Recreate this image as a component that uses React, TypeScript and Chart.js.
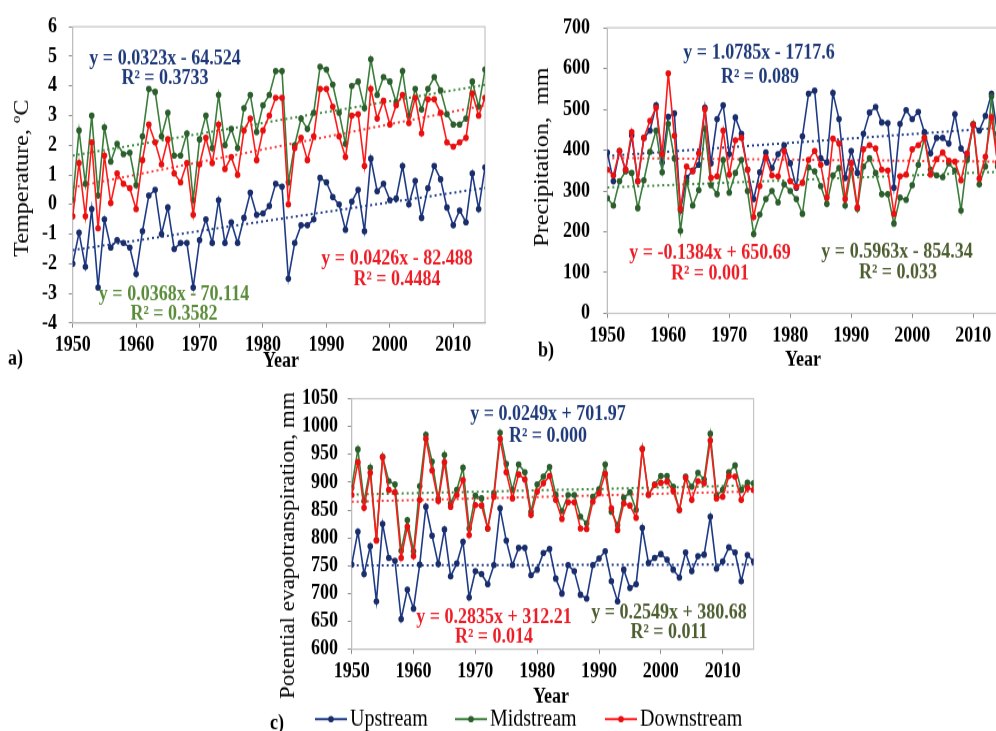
import React, { useEffect, useRef } from "react";
import { Chart, registerables } from "chart.js";

Chart.register(...registerables);

// ---------------- DATA ----------------
const years = [
  1950, 1951, 1952, 1953, 1954, 1955, 1956, 1957, 1958, 1959,
  1960, 1961, 1962, 1963, 1964, 1965, 1966, 1967, 1968, 1969,
  1970, 1971, 1972, 1973, 1974, 1975, 1976, 1977, 1978, 1979,
  1980, 1981, 1982, 1983, 1984, 1985, 1986, 1987, 1988, 1989,
  1990, 1991, 1992, 1993, 1994, 1995, 1996, 1997, 1998, 1999,
  2000, 2001, 2002, 2003, 2004, 2005, 2006, 2007, 2008, 2009,
  2010, 2011, 2012, 2013, 2014, 2015,
];
const xTickYears = [1950, 1960, 1970, 1980, 1990, 2000, 2010];
const seriesNames = ["Upstream", "Midstream", "Downstream"];
const trendYears = [1950, 2015];

// a) Temperature, ºC
const tempTicks = [-4, -3, -2, -1, 0, 1, 2, 3, 4, 5, 6];
const tempUp = [
  -2.0, -0.95, -2.1, -0.15, -2.8, -0.5, -1.45, -1.2, -1.3, -1.45,
  -2.35, -0.9, 0.3, 0.5, -1.0, -0.1, -1.5, -1.3, -1.3, -2.8,
  -1.2, -0.5, -1.3, 0.15, -1.3, -0.6, -1.3, -0.45, 0.4, -0.35,
  -0.3, -0.05, 0.7, 0.6, -2.5, -1.3, -0.7, -0.7, -0.5, 0.9,
  0.75, 0.25, 0.0, -0.85, 0.1, 0.5, -0.9, 1.55, 0.45, 0.7,
  0.15, 0.2, 1.3, 0.0, 0.8, -0.45, 0.55, 1.3, 0.85, -0.1,
  -0.7, -0.2, -0.6, 1.05, -0.15, 1.25,
];
const tempMid = [
  0.15, 2.5, 0.7, 3.0, 0.3, 2.6, 1.45, 2.05, 1.7, 1.75,
  0.65, 2.3, 3.9, 3.8, 2.3, 3.1, 1.65, 1.65, 2.4, 0.15,
  2.2, 3.0, 1.9, 3.7, 2.0, 2.55, 1.9, 3.25, 3.7, 2.45,
  3.35, 3.7, 4.5, 4.5, 0.75, 2.0, 2.9, 2.55, 3.1, 4.65,
  4.55, 4.05, 3.1, 2.05, 4.0, 4.15, 3.25, 4.9, 3.7, 4.3,
  4.15, 3.45, 4.5, 3.0, 3.9, 3.2, 3.9, 4.3, 3.85, 3.05,
  2.7, 2.7, 2.9, 4.15, 3.3, 4.55,
];
const tempDown = [
  -0.4, 1.4, -0.4, 2.1, -0.8, 1.65, 0.05, 1.05, 0.7, 0.55,
  -0.15, 1.5, 2.7, 2.1, 1.35, 2.2, 1.05, 0.75, 1.4, -0.35,
  1.35, 2.25, 1.4, 2.7, 1.2, 1.6, 1.0, 2.5, 2.9, 1.5,
  2.5, 3.0, 3.6, 3.6, 0.0, 1.9, 2.25, 1.5, 2.3, 3.9,
  3.9, 3.3, 2.3, 1.6, 3.0, 3.05, 1.3, 3.9, 2.9, 3.5,
  2.7, 3.35, 3.7, 2.75, 3.6, 2.4, 3.55, 3.55, 3.1, 2.1,
  1.95, 2.1, 2.25, 3.75, 3.0, 3.6,
];
const tempTrendUp = [-1.54, 0.56];
const tempTrendMid = [1.65, 4.04];
const tempTrendDown = [0.58, 3.35];

// b) Precipitation, mm
const precTicks = [0, 100, 200, 300, 400, 500, 600, 700];
const precUp = [
  394, 324, 398, 352, 436, 324, 430, 448, 510, 370,
  482, 490, 252, 332, 350, 364, 504, 368, 476, 510,
  390, 480, 440, 352, 280, 346, 394, 356, 390, 412,
  368, 308, 434, 538, 546, 380, 370, 540, 476, 332,
  398, 344, 440, 492, 506, 468, 466, 308, 464, 498,
  476, 494, 444, 392, 430, 430, 416, 488, 404, 384,
  462, 448, 484, 538, 440, 420,
];
const precMid = [
  282, 264, 324, 348, 344, 258, 326, 396, 448, 346,
  464, 380, 202, 324, 264, 302, 452, 314, 292, 376,
  296, 344, 376, 300, 194, 242, 280, 300, 272, 316,
  300, 280, 244, 358, 348, 312, 268, 338, 356, 264,
  352, 256, 360, 380, 344, 292, 292, 220, 284, 278,
  314, 364, 430, 352, 338, 334, 368, 350, 252, 376,
  464, 316, 360, 532, 360, 340,
];
const precDown = [
  352, 338, 398, 352, 444, 324, 430, 472, 504, 390,
  588, 435, 256, 360, 348, 392, 500, 332, 336, 448,
  340, 424, 430, 352, 236, 312, 382, 338, 336, 398,
  324, 310, 320, 376, 398, 364, 284, 428, 416, 280,
  368, 260, 402, 412, 404, 352, 350, 244, 336, 340,
  402, 412, 430, 340, 378, 394, 374, 372, 326, 392,
  462, 330, 384, 480, 370, 380,
];
const precTrendUp = [385.5, 455.6];
const precTrendMid = [308.4, 347.2];
const precTrendDown = [380.8, 371.8];

// c) Potential evapotranspiration, mm
const petTicks = [600, 650, 700, 750, 800, 850, 900, 950, 1000, 1050];
const petUp = [
  752, 811, 735, 785, 686, 825, 764, 759, 654, 707,
  673, 752, 856, 804, 753, 815, 731, 754, 793, 693,
  740, 735, 717, 751, 853, 795, 751, 782, 782, 733,
  743, 773, 780, 727, 700, 751, 740, 698, 691, 751,
  763, 776, 722, 686, 743, 710, 717, 818, 755, 764,
  771, 761, 743, 729, 774, 740, 767, 770, 838, 745,
  758, 783, 774, 722, 769, 758,
];
const petMid = [
  890, 959, 866, 926, 796, 946, 902, 896, 777, 832,
  776, 893, 985, 937, 870, 949, 862, 886, 926, 817,
  876, 871, 817, 880, 989, 933, 886, 932, 918, 847,
  896, 910, 927, 878, 848, 877, 877, 838, 826, 874,
  887, 932, 847, 823, 872, 882, 850, 960, 878, 896,
  911, 911, 892, 850, 910, 892, 917, 905, 987, 876,
  886, 918, 930, 886, 899, 898,
];
const petDown = [
  877, 936, 854, 917, 795, 945, 886, 882, 764, 820,
  767, 868, 978, 921, 866, 936, 856, 877, 904, 805,
  859, 858, 817, 874, 978, 918, 871, 914, 905, 841,
  883, 898, 911, 868, 834, 864, 864, 817, 816, 865,
  880, 915, 853, 814, 862, 858, 836, 960, 877, 895,
  899, 901, 884, 850, 908, 868, 902, 898, 975, 871,
  874, 911, 910, 868, 890, 886,
];
const petTrendUp = [750.5, 752.2];
const petTrendMid = [877.7, 894.3];
const petTrendDown = [865.0, 883.5];

// ---------------- STYLE ----------------
const SERIF = '"Liberation Serif", "DejaVu Serif", "Times New Roman", serif';
const LINE = ["#1f3a85", "#3a7d3a", "#ff1a1a"];
const MARK = ["#1a2e6c", "#2d5e2d", "#e81010"];
const TREND = ["#24408c", "#3d8b3d", "#ff3a3a"];
const EQ_UP = "#1f3a7a";
const EQ_DOWN = "#ee1c25";
const EQ_MID_A = "#5b8c3a";
const EQ_MID_B = "#4d5e30";
const AXIS = "#8a8a8a";
const FRAME = "#c4c4c4";

type Txt = {
  text: string;
  x: number;
  y: number;
  color?: string;
  size: number;
  bold?: boolean;
  align?: CanvasTextAlign;
  rotate?: boolean;
};

type PanelCfg = {
  left: number;
  top: number;
  w: number;
  h: number;
  k: number;
  ca: { l: number; t: number; r: number; b: number };
  yMin: number;
  yMax: number;
  yTicks: number[];
  tickSize: number;
  xLabelY: number;
  yLabelRight: number;
  series: number[][];
  trends: number[][];
  texts: Txt[];
  legendY?: number;
  legendItems?: { lineX: number; textX: number }[];
};

const TICK_LEN = 4;

function Panel({ cfg }: { cfg: PanelCfg }) {
  const ref = useRef<HTMLCanvasElement | null>(null);
  useEffect(() => {
    const k = cfg.k;
    const ca = cfg.ca;
    const lh = cfg.tickSize * 1.2;
    const xPad = cfg.xLabelY / k - ca.b / k - TICK_LEN - lh / 2;
    const yPad = ca.l - TICK_LEN - cfg.yLabelRight;
    const tickFont = { family: SERIF, size: cfg.tickSize, weight: "bold" as const };

    const trendSets = cfg.trends.map((t, i) => ({
      type: "line" as const,
      label: "trend " + seriesNames[i],
      data: trendYears.map((yr, j) => ({ x: yr, y: t[j] })),
      borderColor: TREND[i],
      borderWidth: 2,
      borderDash: [2, 3],
      pointRadius: 0,
      fill: false,
      order: 10,
      isSeries: false,
    }));
    const seriesSets = cfg.series.map((vals, i) => ({
      type: "line" as const,
      label: seriesNames[i],
      data: years.map((yr, j) => ({ x: yr, y: vals[j] })),
      borderColor: LINE[i],
      backgroundColor: MARK[i],
      borderWidth: 1.6,
      pointRadius: 2.8,
      pointBorderWidth: 0,
      pointBackgroundColor: MARK[i],
      pointBorderColor: MARK[i],
      fill: false,
      tension: 0,
      order: 3 - i,
      isSeries: true,
    }));

    const deco = {
      id: "deco",
      beforeDatasetsDraw(chart: any) {
        const { left, top, right, bottom } = chart.chartArea;
        const ctx = chart.ctx;
        ctx.save();
        ctx.strokeStyle = FRAME;
        ctx.lineWidth = 1.2;
        ctx.strokeRect(left, top, right - left, bottom - top);
        ctx.restore();
      },
      afterDraw(chart: any) {
        const ctx = chart.ctx;
        ctx.save();
        for (const t of cfg.texts) {
          ctx.font = `${t.bold ? "bold " : ""}${t.size}px ${SERIF}`;
          ctx.fillStyle = t.color || "#000";
          ctx.textAlign = t.align || "center";
          ctx.textBaseline = "middle";
          if (t.rotate) {
            ctx.save();
            ctx.translate(t.x, t.y / k);
            ctx.rotate(-Math.PI / 2);
            ctx.fillText(t.text, 0, 0);
            ctx.restore();
          } else {
            ctx.fillText(t.text, t.x, t.y / k);
          }
        }
        if (cfg.legendItems && cfg.legendY !== undefined) {
          const ly = cfg.legendY / k;
          const sets = chart.data.datasets.filter((d: any) => d.isSeries);
          sets.forEach((d: any, i: number) => {
            const it = cfg.legendItems![i];
            ctx.strokeStyle = d.borderColor;
            ctx.lineWidth = 2;
            ctx.beginPath();
            ctx.moveTo(it.lineX, ly);
            ctx.lineTo(it.lineX + 32, ly);
            ctx.stroke();
            ctx.fillStyle = d.pointBackgroundColor;
            ctx.beginPath();
            ctx.arc(it.lineX + 16, ly, 2.8, 0, Math.PI * 2);
            ctx.fill();
            ctx.font = `20px ${SERIF}`;
            ctx.fillStyle = "#000";
            ctx.textAlign = "left";
            ctx.textBaseline = "middle";
            ctx.fillText(d.label, it.textX, ly);
          });
        }
        ctx.restore();
      },
    };

    const chart = new Chart(ref.current as HTMLCanvasElement, {
      type: "line",
      data: { datasets: [...trendSets, ...seriesSets] as any },
      options: {
        animation: false,
        responsive: true,
        maintainAspectRatio: false,
        events: [],
        layout: { padding: { left: 0, right: cfg.w - ca.r, top: ca.t / k, bottom: 0 } },
        plugins: {
          legend: { display: false },
          tooltip: { enabled: false },
          title: { display: false },
        },
        scales: {
          x: {
            type: "linear",
            min: 1950,
            max: 2015,
            afterBuildTicks: (s: any) => {
              s.ticks = xTickYears.map((v) => ({ value: v }));
            },
            afterFit: (s: any) => {
              s.height = (cfg.h - ca.b) / k;
            },
            ticks: {
              callback: (v: any) => String(v),
              font: tickFont,
              color: "#000",
              padding: xPad,
              maxRotation: 0,
              autoSkip: false,
            },
            grid: { display: true, drawOnChartArea: false, drawTicks: true, tickLength: TICK_LEN, color: AXIS },
            border: { display: true, color: AXIS, width: 1 },
          },
          y: {
            type: "linear",
            min: cfg.yMin,
            max: cfg.yMax,
            afterBuildTicks: (s: any) => {
              s.ticks = cfg.yTicks.map((v) => ({ value: v }));
            },
            afterFit: (s: any) => {
              s.width = ca.l;
            },
            ticks: {
              callback: (v: any) => String(v),
              font: tickFont,
              color: "#000",
              padding: yPad,
              autoSkip: false,
            },
            grid: { display: true, drawOnChartArea: false, drawTicks: true, tickLength: TICK_LEN, color: AXIS },
            border: { display: true, color: AXIS, width: 1 },
          },
        },
      } as any,
      plugins: [deco],
    });
    return () => chart.destroy();
  }, []);

  return (
    <div style={{ position: "absolute", left: cfg.left, top: cfg.top, width: cfg.w, height: cfg.h }}>
      <div
        style={{
          position: "relative",
          width: cfg.w,
          height: cfg.h / cfg.k,
          transform: `scaleY(${cfg.k})`,
          transformOrigin: "0 0",
        }}
      >
        <canvas ref={ref} />
      </div>
    </div>
  );
}

const panelA: PanelCfg = {
  left: 0,
  top: 0,
  w: 496,
  h: 375,
  k: 1.15,
  ca: { l: 72.7, t: 26.7, r: 485, b: 323 },
  yMin: -4,
  yMax: 6,
  yTicks: tempTicks,
  tickSize: 18,
  xLabelY: 345,
  yLabelRight: 57,
  series: [tempUp, tempMid, tempDown],
  trends: [tempTrendUp, tempTrendMid, tempTrendDown],
  texts: [
    { text: "y = 0.0323x - 64.524", x: 165, y: 59, color: EQ_UP, size: 18, bold: true },
    { text: "R² = 0.3733", x: 165, y: 79, color: EQ_UP, size: 18, bold: true },
    { text: "y = 0.0426x - 82.488", x: 397, y: 259, color: EQ_DOWN, size: 18, bold: true },
    { text: "R² = 0.4484", x: 397, y: 280, color: EQ_DOWN, size: 18, bold: true },
    { text: "y = 0.0368x - 70.114", x: 174, y: 295, color: EQ_MID_A, size: 18, bold: true },
    { text: "R² = 0.3582", x: 174, y: 314, color: EQ_MID_A, size: 18, bold: true },
    { text: "Temperature, ºC", x: 22, y: 178, size: 21, rotate: true },
    { text: "Year", x: 281, y: 362, size: 18, bold: true },
    { text: "a)", x: 8, y: 359, size: 18, bold: true, align: "left" },
  ],
};

const panelB: PanelCfg = {
  left: 500,
  top: 0,
  w: 515,
  h: 375,
  k: 1.15,
  ca: { l: 107.3, t: 21.7, r: 503.7, b: 313.3 },
  yMin: 0,
  yMax: 700,
  yTicks: precTicks,
  tickSize: 18,
  xLabelY: 336,
  yLabelRight: 90,
  series: [precUp, precMid, precDown],
  trends: [precTrendUp, precTrendMid, precTrendDown],
  texts: [
    { text: "y = 1.0785x - 1717.6", x: 259, y: 53, color: EQ_UP, size: 18, bold: true },
    { text: "R² = 0.089", x: 260, y: 77, color: EQ_UP, size: 18, bold: true },
    { text: "y = -0.1384x + 650.69", x: 210, y: 253, color: EQ_DOWN, size: 18, bold: true },
    { text: "R² = 0.001", x: 210, y: 274, color: EQ_DOWN, size: 18, bold: true },
    { text: "y = 0.5963x - 854.34", x: 397, y: 252, color: EQ_MID_B, size: 18, bold: true },
    { text: "R² = 0.033", x: 398, y: 273, color: EQ_MID_B, size: 18, bold: true },
    { text: "Precipitation,  mm", x: 42, y: 157, size: 21, rotate: true },
    { text: "Year", x: 303, y: 360, size: 18, bold: true },
    { text: "b)", x: 38, y: 351, size: 18, bold: true, align: "left" },
  ],
};

const panelC: PanelCfg = {
  left: 250,
  top: 375,
  w: 510,
  h: 356,
  k: 1.15,
  ca: { l: 101.7, t: 21.5, r: 503.6, b: 273.3 },
  yMin: 600,
  yMax: 1050,
  yTicks: petTicks,
  tickSize: 18,
  xLabelY: 295.7,
  yLabelRight: 88,
  series: [petUp, petMid, petDown],
  trends: [petTrendUp, petTrendMid, petTrendDown],
  texts: [
    { text: "y = 0.0249x + 701.97", x: 298, y: 39, color: EQ_UP, size: 18, bold: true },
    { text: "R² = 0.000", x: 298, y: 61, color: EQ_UP, size: 18, bold: true },
    { text: "y = 0.2835x + 312.21", x: 244, y: 242, color: EQ_DOWN, size: 18, bold: true },
    { text: "R² = 0.014", x: 244, y: 262, color: EQ_DOWN, size: 18, bold: true },
    { text: "y = 0.2549x + 380.68", x: 419, y: 237, color: EQ_MID_B, size: 18, bold: true },
    { text: "R² = 0.011", x: 419, y: 257, color: EQ_MID_B, size: 18, bold: true },
    { text: "Potential evapotranspiration, mm", x: 39, y: 170, size: 20, rotate: true },
    { text: "Year", x: 301, y: 321, size: 18, bold: true },
    { text: "c)", x: 20, y: 348, size: 18, bold: true, align: "left" },
  ],
  legendY: 343,
  legendItems: [
    { lineX: 65, textX: 100 },
    { lineX: 205, textX: 240 },
    { lineX: 355, textX: 390 },
  ],
};

export default function App() {
  return (
    <div
      style={{
        position: "fixed",
        left: 0,
        top: 0,
        width: 996,
        height: 731,
        overflow: "hidden",
        background: "#fff",
      }}
    >
      <Panel cfg={panelA} />
      <Panel cfg={panelB} />
      <Panel cfg={panelC} />
    </div>
  );
}
